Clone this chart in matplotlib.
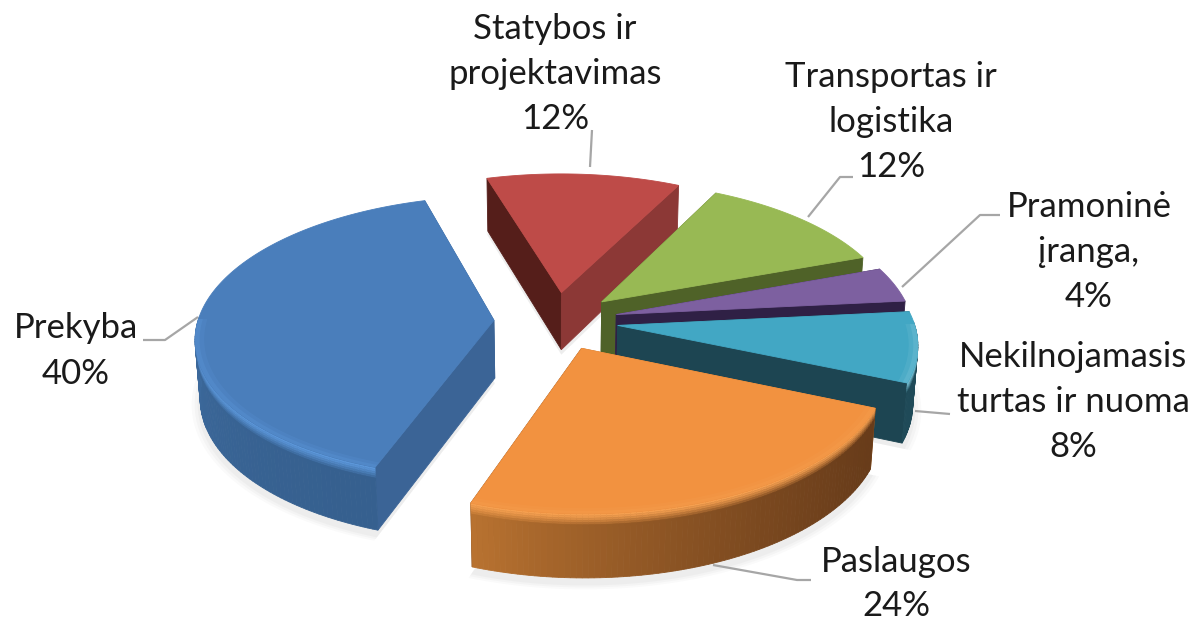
#!/usr/bin/env python3
import numpy as np
import matplotlib
matplotlib.use("Agg")
import matplotlib.pyplot as plt
from matplotlib.colors import to_rgb
from matplotlib.patches import Polygon

## data
categories = ["Prekyba", "Statybos ir\nprojektavimas", "Transportas ir\nlogistika",
              "Pramoninė\nįranga,", "Nekilnojamasis\nturtas ir nuoma", "Paslaugos"]
values = [40, 12, 12, 4, 8, 24]

## styles, one per slice
top_colors = ["#4a7ebb", "#be4b48", "#98b954", "#7d60a0", "#42a7c4", "#f29240"]
bevel_colors = ["#5c97da", "#c95a56", "#a4c45f", "#8a6cb0", "#7cc4d8", "#f6a050"]
wall_start = ["#36608f", "#8c3836", "#4f6228", "#3a2a55", "#1f4a58", "#683c1a"]
wall_end = ["#4c80bc", "#8c3836", "#4f6228", "#3a2a55", "#1f4a58", "#b87230"]
start_face = ["#3b6496", "#551e1a", "#4f6228", "#3a2a55", "#1f4a58", "#b87230"]
end_face = ["#3b6496", "#8c3836", "#4f6228", "#2f2045", "#1d4552", "#683c1a"]
draw_order = [1, 2, 3, 4, 0, 5]

## label placement
label_pos = [(76, 351), (555, 74), (891, 122), (1089, 252), (1073, 402), (896, 584)]
leaders = [[(143, 340), (165, 340), (198, 317)],
           [(592, 130), (590, 167)],
           [(808, 217), (840, 177), (853, 177)],
           [(902, 287), (980, 215), (1000, 215)],
           [(915, 411), (950, 414)],
           [(713, 565), (797, 580), (811, 580)]]

FIRST_ANGLE = 199.5
EXPLODE = 0.21
HEIGHT = 0.225
CX, CY = 556.0, 321.0
ELEV = np.radians(28)
DIST = 7.5
FOCAL = 2220.0
BEVEL = 0.045


def project(x, y, z):
    s, c = np.sin(ELEV), np.cos(ELEV)
    w = DIST + y * c - z * s
    return CX + FOCAL * x / w, CY - FOCAL * (y * s + z * c) / w


def quad(ax, xs, ys, zs, color, zorder, alpha=1.0, lw=0.6):
    sx, sy = project(np.asarray(xs, float), np.asarray(ys, float), np.asarray(zs, float))
    ax.add_patch(Polygon(np.column_stack([sx, sy]), closed=True, facecolor=color,
                         edgecolor=color if alpha == 1.0 else "none", linewidth=lw,
                         alpha=alpha, zorder=zorder))


def mix(a, b, t):
    a, b = np.array(to_rgb(a)), np.array(to_rgb(b))
    return tuple(a + (b - a) * t)


fig = plt.figure(figsize=(11.97, 6.21), dpi=100)
ax = fig.add_axes([0, 0, 1, 1])
ax.set_xlim(0, 1197)
ax.set_ylim(621, 0)
ax.axis("off")

## turn the values into angles, clockwise from the back of the pie
edges = FIRST_ANGLE + np.cumsum([0] + values) / sum(values) * 360.0
slices = []
for i in range(len(values)):
    a0, a1 = np.radians(edges[i]), np.radians(edges[i + 1])
    mid = (a0 + a1) / 2
    ox, oy = EXPLODE * np.sin(mid), EXPLODE * np.cos(mid)
    slices.append((a0, a1, ox, oy))

## soft shadow on the floor
for a0, a1, ox, oy in slices:
    t = np.linspace(a0, a1, 60)
    for grow, alpha in [(1.03, 0.04), (1.02, 0.05), (1.01, 0.06)]:
        xs = np.r_[ox, ox + grow * np.sin(t)]
        ys = np.r_[oy, oy + grow * np.cos(t)]
        quad(ax, xs, ys, np.full(xs.shape, -HEIGHT - 0.02), "#8a8a8a", 1, alpha=alpha)

for n, i in enumerate(draw_order):
    a0, a1, ox, oy = slices[i]
    z = 2 + n
    t = np.linspace(a0, a1, max(int(np.degrees(a1 - a0)), 6) + 1)

    ## the two cut faces
    for ang, col in [(a0, start_face[i]), (a1, end_face[i])]:
        ex, ey = ox + np.sin(ang), oy + np.cos(ang)
        quad(ax, [ox, ex, ex, ox], [oy, ey, ey, oy], [0, 0, -HEIGHT, -HEIGHT], col, z)

    ## rim, shaded along the arc, only the part that faces the viewer
    for j in range(len(t) - 1):
        if np.cos(t[j:j + 2].mean()) > 0.02:
            continue
        x = ox + np.sin(t[j:j + 2])
        y = oy + np.cos(t[j:j + 2])
        frac = (j / (len(t) - 2)) ** 1.6
        wall = mix(wall_start[i], wall_end[i], frac)
        quad(ax, [x[0], x[1], x[1], x[0]], [y[0], y[1], y[1], y[0]],
             [0, 0, -HEIGHT, -HEIGHT], wall, z + 0.1)
        bands = 6
        for b in range(bands):
            zt = -BEVEL * b / bands
            zb = -BEVEL * (b + 1) / bands
            col = mix(bevel_colors[i], wall, (b / (bands - 1)) ** 1.3)
            quad(ax, [x[0], x[1], x[1], x[0]], [y[0], y[1], y[1], y[0]],
                 [zt, zt, zb, zb], col, z + 0.2, lw=0.3)

    ## top face
    xs = np.r_[ox, ox + np.sin(t)]
    ys = np.r_[oy, oy + np.cos(t)]
    quad(ax, xs, ys, np.zeros(xs.shape), top_colors[i], z + 0.3)

    ## lighter band along the front of the top edge
    tf = t[np.cos(t) < 0.02]
    for inner, alpha in [(0.985, 0.3), (0.97, 0.2)]:
        xi = np.r_[ox + np.sin(tf), (ox + inner * np.sin(tf))[::-1]]
        yi = np.r_[oy + np.cos(tf), (oy + inner * np.cos(tf))[::-1]]
        quad(ax, xi, yi, np.zeros(xi.shape), bevel_colors[i], z + 0.35, alpha=alpha)

## leader lines and labels
for pts in leaders:
    ax.plot(*zip(*pts), color="#a6a6a6", lw=1.6, zorder=20, solid_capstyle="butt")

for name, val, (lx, ly) in zip(categories, values, label_pos):
    ax.text(lx, ly, f"{name}\n{val}%", ha="center", va="center", family="Lato",
            fontsize=25, color="#1a1a1a", linespacing=1.5, zorder=21)

fig.savefig("out.png", dpi=100, facecolor="white")
